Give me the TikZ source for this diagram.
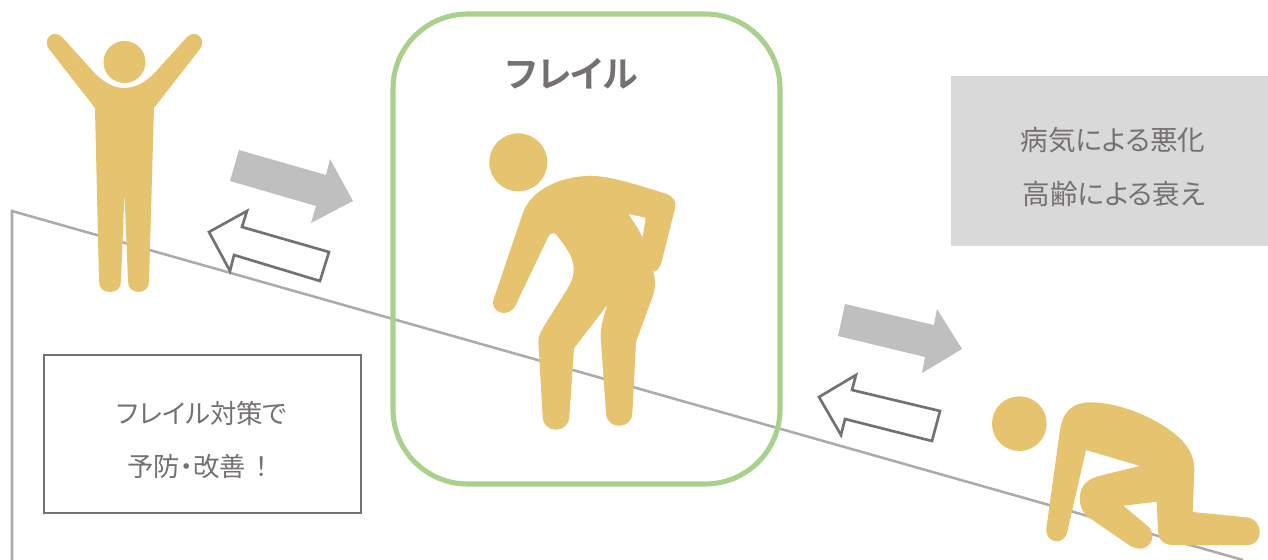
\documentclass[tikz,border=0pt]{standalone}
\usepackage{fontspec}
\newfontfamily\cjk[RawFeature=+palt]{Noto Sans CJK JP}
\newfontfamily\cjkb[RawFeature=+palt]{Noto Sans CJK JP Bold}
\definecolor{figgold}{HTML}{E5C36F}
\definecolor{slopegray}{HTML}{AEAAAA}
\definecolor{txtgray}{HTML}{767171}
\definecolor{arrowgray}{HTML}{BFBFBF}
\definecolor{framegreen}{HTML}{A9D18E}
\definecolor{boxgray}{HTML}{D9D9D9}
\tikzset{
  figure/.style={fill=figgold,draw=none},
  bigarrow/.style={fill=arrowgray,draw=none},
  hollowarrow/.style={fill=white,draw=txtgray,line width=2pt,line join=miter},
  label/.style={font=\cjk\fontsize{20.7}{25}\selectfont,text=txtgray,align=center},
  carelabel/.style={font=\cjk\fontsize{19.8}{24}\selectfont,text=txtgray,align=center}
}
\begin{document}
\begin{tikzpicture}[x=0.75pt,y=-0.75pt]
\useasboundingbox (0,0) rectangle (1268,560);
% slope
\draw[slopegray,line width=1.9pt,line join=miter] (12,560) -- (12,211) -- (1243,560);
% frame
\draw[framegreen,line width=3.8pt,rounded corners=56pt] (393,14) rectangle (780,484);
% boxes
\fill[boxgray] (951,76) rectangle (1268,246);
\draw[txtgray,line width=2pt,fill=white] (44,355) rectangle (361,513);
\node[label] (risk1) at (1113,140) {病気による悪化};
\node[label] (risk2) at (1114,194) {高齢による衰え};
\node[carelabel] (care1) at (202,413) {フレイル対策で};
\node[carelabel] (care2) at (202,466) {予防・改善\hspace{0.33em}！\hspace{0.33em}};
\node[font=\cjkb\fontsize{27}{32}\selectfont,text=txtgray] (title) at (572,74) {フレイル};
% arrows
\fill[bigarrow] (239,150) -- (326,175) -- (330,159) -- (353,201) -- (311,223) -- (316,206) -- (230,181) -- cycle;
\draw[hollowarrow] (329,252) -- (242,227) -- (247,211) -- (209,232) -- (230,271) -- (234,255) -- (320,281) -- cycle;
\fill[bigarrow] (845,304) -- (934,325) -- (937,309) -- (962,349) -- (922,373) -- (925,357) -- (838,336) -- cycle;
\draw[hollowarrow] (940,411) -- (852,390) -- (856,375) -- (819,397) -- (841,435) -- (845,419) -- (932,441) -- cycle;
% person 1
\fill[figure] (124.5,62) circle[radius=21];
\fill[figure] (95,108) -- (49,49)
  .. controls (44,42) and (48,34) .. (55,34)
  .. controls (58,34) and (60,35) .. (62,37)
  -- (90,68) .. controls (100,80) and (112,88) .. (124.5,88)
  .. controls (137,88) and (149,80) .. (159,68)
  -- (187,37) .. controls (189,35) and (191,34) .. (194,34)
  .. controls (201,34) and (205,42) .. (200,49)
  -- (154,108) -- (149,281)
  .. controls (149,288) and (145,292) .. (138.5,292)
  .. controls (132,292) and (128,288) .. (128,281)
  -- (124.5,192) -- (121,281)
  .. controls (121,288) and (117,292) .. (110,292)
  .. controls (103,292) and (99,288) .. (99,281) -- cycle;
% person 2
\begin{scope}[shift={(470,120)},x=0.25pt,y=-0.25pt]
\fill[figure] (145,127) circle[radius=87];
\fill[figure,even odd rule] (160,275) .. controls (190,200) and (290,165) .. (370,168)
  .. controls (430,170) and (520,200) .. (590,222)
  .. controls (610,230) and (620,245) .. (615,265)
  -- (575,425) .. controls (570,445) and (560,455) .. (550,455)
  .. controls (558,480) and (555,510) .. (548,530)
  -- (498,665) -- (487,880)
  .. controls (485,930) and (410,930) .. (408,880)
  -- (392,650) .. controls (392,620) and (400,590) .. (412,555)
  -- (312,685) -- (298,890)
  .. controls (295,942) and (220,942) .. (218,890)
  -- (205,665) .. controls (205,650) and (212,635) .. (220,622)
  -- (290,510) .. controls (310,480) and (318,450) .. (305,415)
  .. controls (295,390) and (275,365) .. (260,345)
  .. controls (250,335) and (240,340) .. (235,350)
  -- (137,555) .. controls (115,600) and (55,575) .. (72,535) -- cycle
  (475,282) -- (527,293) -- (518,353) .. controls (505,325) and (490,305) .. (475,282) -- cycle;
\end{scope}
% person 3
\begin{scope}[shift={(960,380)},x=0.25pt,y=-0.25pt]
\fill[figure] (178,131) circle[radius=82];
\fill[figure] (300,150) .. controls (310,90) and (340,68) .. (390,67)
  .. controls (490,68) and (600,120) .. (660,175)
  .. controls (690,205) and (703,235) .. (703,270)
  -- (698,396) -- (860,412)
  .. controls (912,418) and (912,495) .. (862,495)
  -- (640,495) .. controls (610,495) and (595,480) .. (594,450)
  -- (590,365) -- (490,377) -- (565,440)
  .. controls (585,460) and (580,490) .. (555,503)
  .. controls (540,510) and (525,505) .. (510,497)
  -- (390,415) .. controls (360,395) and (355,360) .. (362,335)
  .. controls (368,310) and (390,295) .. (420,287)
  -- (540,258) -- (378,210) -- (322,455)
  .. controls (312,500) and (255,490) .. (259,445) -- cycle;
\end{scope}
\end{tikzpicture}
\end{document}
